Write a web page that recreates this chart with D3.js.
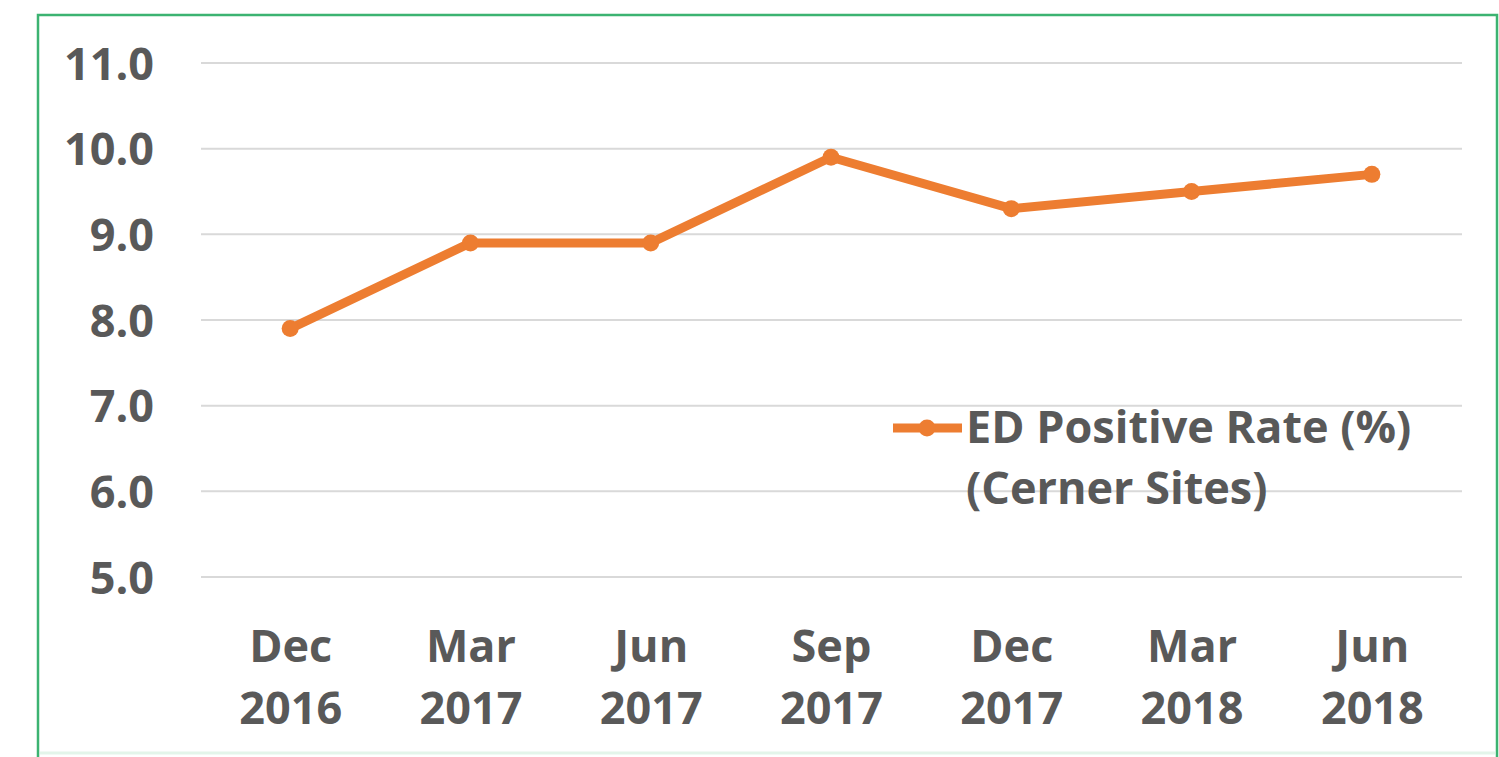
<!DOCTYPE html>
<html>
<head>
<meta charset="utf-8">
<script src="https://cdn.jsdelivr.net/npm/d3@7"></script>
<style>
  html, body { margin: 0; padding: 0; background: #ffffff; }
  svg { display: block; }
  text { font-family: "Open Sans", "Liberation Sans", sans-serif; font-weight: 700; fill: #595959; }
</style>
</head>
<body>
<svg id="chart" width="1499" height="757"></svg>
<script>
const categories = [["Dec","2016"],["Mar","2017"],["Jun","2017"],["Sep","2017"],["Dec","2017"],["Mar","2018"],["Jun","2018"]];
const values = [7.9, 8.9, 8.9, 9.9, 9.3, 9.5, 9.7];
const yTicks = [5, 6, 7, 8, 9, 10, 11];
const seriesName = ["ED Positive Rate (%)", "(Cerner Sites)"];

const svg = d3.select("#chart");
const color = "#ED7D31";
const fs = 45;

// frame (bottom edge falls just below the visible area, as in the reference)
svg.append("rect")
  .attr("x", 38).attr("y", 15)
  .attr("width", 1459).attr("height", 760)
  .attr("fill", "#ffffff")
  .attr("stroke", "#3cb371").attr("stroke-width", 2.5);
svg.append("line")
  .attr("x1", 40).attr("x2", 1495).attr("y1", 753).attr("y2", 753)
  .attr("stroke", "#e3f5ea").attr("stroke-width", 3);

const x = d3.scalePoint()
  .domain(categories.map((d, i) => i))
  .range([200, 1462])
  .padding(0.5);

const y = d3.scaleLinear().domain([5, 11]).range([577, 63]);

// gridlines
svg.append("g").selectAll("line")
  .data(yTicks)
  .join("line")
  .attr("x1", 201).attr("x2", 1462)
  .attr("y1", d => y(d)).attr("y2", d => y(d))
  .attr("stroke", "#d9d9d9").attr("stroke-width", 2);

// y axis labels
const yAxis = d3.axisLeft(y).tickValues(yTicks).tickFormat(d3.format(".1f")).tickSize(0).tickPadding(0);
const gy = svg.append("g").attr("transform", "translate(154,0)").call(yAxis);
gy.select(".domain").remove();
gy.selectAll("text")
  .attr("font-size", fs)
  .attr("dy", "0.36em")
  .style("font-family", '"Open Sans", sans-serif')
  .style("font-weight", 700)
  .attr("fill", "#595959");

// x axis labels
const xAxis = d3.axisBottom(x).tickSize(0).tickFormat(() => "");
const gx = svg.append("g").attr("transform", "translate(0,600)").call(xAxis);
gx.select(".domain").remove();
gx.selectAll(".tick text").each(function(d) {
  const t = d3.select(this).text(null).attr("y", 0).attr("dy", null)
    .attr("font-size", fs)
    .style("font-family", '"Open Sans", sans-serif')
    .style("font-weight", 700)
    .attr("fill", "#595959");
  t.append("tspan").attr("x", 0).attr("y", 62).text(categories[d][0]);
  t.append("tspan").attr("x", 0).attr("y", 124).text(categories[d][1]);
});

// line
const line = d3.line().x((d, i) => x(i)).y(d => y(d));
svg.append("path")
  .datum(values)
  .attr("d", line)
  .attr("fill", "none")
  .attr("stroke", color)
  .attr("stroke-width", 9)
  .attr("stroke-linejoin", "round")
  .attr("stroke-linecap", "round");

svg.append("g").selectAll("circle")
  .data(values)
  .join("circle")
  .attr("cx", (d, i) => x(i))
  .attr("cy", d => y(d))
  .attr("r", 8.5)
  .attr("fill", color);

// legend
const lg = svg.append("g");
lg.append("line")
  .attr("x1", 893).attr("x2", 962).attr("y1", 428).attr("y2", 428)
  .attr("stroke", color).attr("stroke-width", 9);
lg.append("circle").attr("cx", 927).attr("cy", 428).attr("r", 8.5).attr("fill", color);
const lt = lg.append("text").attr("font-size", fs);
lt.append("tspan").attr("x", 966).attr("y", 443).text(seriesName[0]);
lt.append("tspan").attr("x", 966).attr("y", 504).text(seriesName[1]);
</script>
</body>
</html>
